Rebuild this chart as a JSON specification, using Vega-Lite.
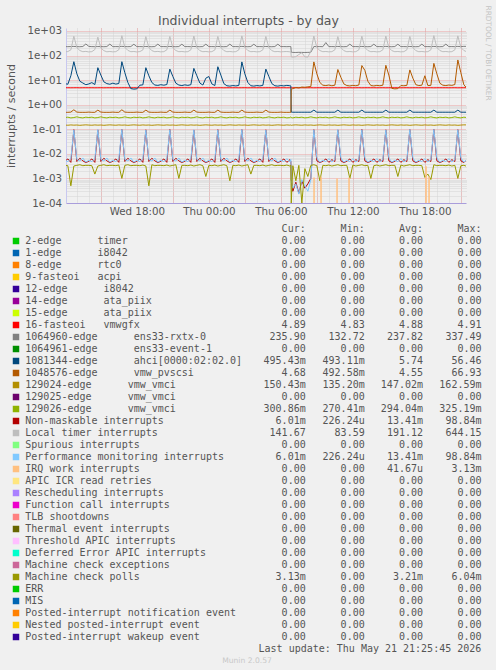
{
"$schema":"https://vega.github.io/schema/vega-lite/v6.json",
"background":"#f0f0f0",
"padding":5,
"title":{"text":"Individual interrupts - by day","font":"DejaVu Sans","fontSize":12.5,"fontWeight":"normal","color":"#555555","anchor":"middle","offset":-22},
"config":{"view":{"stroke":null},"font":"DejaVu Sans"},
"spacing":7,
"resolve":{"scale":{"color":"independent"}},
"vconcat":[
{
"width":400,"height":175,
"layer":[
{
"data":{"values":[
{"t":"2026-05-20T12:00","R":4.88,"G":231,"A":7.2,"P":0.49,"V4":0.148,"V6":0.30,"N":0.0050,"L":142,"F":0.0055,"M":0.0034},
{"t":"2026-05-20T12:15","R":4.89,"G":229,"A":6.8,"P":0.49,"V4":0.146,"V6":0.31,"N":0.0062,"L":145,"F":0.0048,"M":0.0033},
{"t":"2026-05-20T12:30","R":4.87,"G":232,"A":15,"P":0.50,"V4":0.150,"V6":0.29,"N":0.0045,"L":170,"F":0.0064,"M":0.0005},
{"t":"2026-05-20T12:45","R":4.88,"G":234,"A":56,"P":0.62,"V4":0.147,"V6":0.30,"N":0.096,"L":610,"F":0.094,"M":0.0032},
{"t":"2026-05-20T13:00","R":4.90,"G":230,"A":18,"P":0.50,"V4":0.149,"V6":0.32,"N":0.0049,"L":210,"F":0.0059,"M":0.0034},
{"t":"2026-05-20T13:15","R":4.86,"G":228,"A":9,"P":0.49,"V4":0.145,"V6":0.30,"N":0.0066,"L":160,"F":0.0051,"M":0.0036},
{"t":"2026-05-20T13:30","R":4.88,"G":233,"A":7.6,"P":0.49,"V4":0.148,"V6":0.29,"N":0.0052,"L":143,"F":0.0068,"M":0.0033},
{"t":"2026-05-20T13:45","R":4.89,"G":295,"A":6.5,"P":0.49,"V4":0.151,"V6":0.31,"N":0.0044,"L":147,"F":0.0046,"M":0.0034},
{"t":"2026-05-20T14:00","R":4.88,"G":235,"A":7.0,"P":0.50,"V4":0.148,"V6":0.30,"N":0.0050,"L":140,"F":0.0055,"M":0.0034},
{"t":"2026-05-20T14:15","R":4.89,"G":230,"A":7.9,"P":0.49,"V4":0.146,"V6":0.31,"N":0.0062,"L":144,"F":0.0048,"M":0.0033},
{"t":"2026-05-20T14:30","R":4.87,"G":229,"A":6.6,"P":0.49,"V4":0.150,"V6":0.29,"N":0.0045,"L":175,"F":0.0064,"M":0.0015},
{"t":"2026-05-20T14:45","R":4.88,"G":232,"A":32,"P":0.60,"V4":0.147,"V6":0.30,"N":0.094,"L":560,"F":0.097,"M":0.0032},
{"t":"2026-05-20T15:00","R":4.90,"G":231,"A":16,"P":0.50,"V4":0.149,"V6":0.32,"N":0.0049,"L":205,"F":0.0059,"M":0.0034},
{"t":"2026-05-20T15:15","R":4.86,"G":228,"A":8.5,"P":0.49,"V4":0.145,"V6":0.30,"N":0.0066,"L":158,"F":0.0051,"M":0.0036},
{"t":"2026-05-20T15:30","R":4.88,"G":232,"A":7.2,"P":0.49,"V4":0.148,"V6":0.29,"N":0.0052,"L":142,"F":0.0068,"M":0.0033},
{"t":"2026-05-20T15:45","R":4.89,"G":292,"A":6.8,"P":0.49,"V4":0.151,"V6":0.31,"N":0.0044,"L":146,"F":0.0046,"M":0.0034},
{"t":"2026-05-20T16:00","R":4.88,"G":229,"A":7.5,"P":0.50,"V4":0.148,"V6":0.30,"N":0.0050,"L":141,"F":0.0055,"M":0.0034},
{"t":"2026-05-20T16:15","R":4.89,"G":231,"A":6.9,"P":0.49,"V4":0.146,"V6":0.31,"N":0.0062,"L":144,"F":0.0048,"M":0.0033},
{"t":"2026-05-20T16:30","R":4.87,"G":230,"A":7.3,"P":0.49,"V4":0.150,"V6":0.29,"N":0.0045,"L":172,"F":0.0064,"M":0.0035},
{"t":"2026-05-20T16:45","R":4.88,"G":236,"A":56,"P":0.62,"V4":0.147,"V6":0.30,"N":0.098,"L":640,"F":0.0988,"M":0.001},
{"t":"2026-05-20T17:00","R":4.90,"G":231,"A":20,"P":0.50,"V4":0.149,"V6":0.32,"N":0.0049,"L":215,"F":0.0059,"M":0.0034},
{"t":"2026-05-20T17:15","R":4.86,"G":229,"A":8,"P":0.49,"V4":0.145,"V6":0.30,"N":0.0066,"L":162,"F":0.0051,"M":0.0036},
{"t":"2026-05-20T17:30","R":4.88,"G":232,"A":4.5,"P":0.49,"V4":0.148,"V6":0.29,"N":0.0052,"L":143,"F":0.0068,"M":0.0033},
{"t":"2026-05-20T17:45","R":4.89,"G":288,"A":4.3,"P":0.49,"V4":0.151,"V6":0.31,"N":0.0044,"L":146,"F":0.0046,"M":0.0034},
{"t":"2026-05-20T18:00","R":4.88,"G":230,"A":4.4,"P":0.50,"V4":0.148,"V6":0.30,"N":0.0050,"L":140,"F":0.0055,"M":0.0034},
{"t":"2026-05-20T18:15","R":4.89,"G":231,"A":6.2,"P":0.49,"V4":0.146,"V6":0.31,"N":0.0062,"L":145,"F":0.0048,"M":0.0033},
{"t":"2026-05-20T18:30","R":4.87,"G":229,"A":6.4,"P":0.49,"V4":0.150,"V6":0.29,"N":0.0045,"L":168,"F":0.0064,"M":0.0035},
{"t":"2026-05-20T18:45","R":4.88,"G":233,"A":32,"P":0.60,"V4":0.147,"V6":0.30,"N":0.095,"L":590,"F":0.093,"M":0.0032},
{"t":"2026-05-20T19:00","R":4.90,"G":230,"A":15,"P":0.50,"V4":0.149,"V6":0.32,"N":0.0049,"L":212,"F":0.0059,"M":0.0005},
{"t":"2026-05-20T19:15","R":4.86,"G":228,"A":8,"P":0.49,"V4":0.145,"V6":0.30,"N":0.0066,"L":158,"F":0.0051,"M":0.0036},
{"t":"2026-05-20T19:30","R":4.88,"G":232,"A":6.3,"P":0.49,"V4":0.148,"V6":0.29,"N":0.0052,"L":143,"F":0.0068,"M":0.0033},
{"t":"2026-05-20T19:45","R":4.89,"G":291,"A":6.1,"P":0.49,"V4":0.151,"V6":0.31,"N":0.0044,"L":147,"F":0.0046,"M":0.0034},
{"t":"2026-05-20T20:00","R":4.88,"G":230,"A":6.5,"P":0.50,"V4":0.148,"V6":0.30,"N":0.0050,"L":141,"F":0.0055,"M":0.0034},
{"t":"2026-05-20T20:15","R":4.89,"G":231,"A":6.2,"P":0.49,"V4":0.146,"V6":0.31,"N":0.0062,"L":144,"F":0.0048,"M":0.0033},
{"t":"2026-05-20T20:30","R":4.87,"G":229,"A":6.6,"P":0.49,"V4":0.150,"V6":0.29,"N":0.0045,"L":170,"F":0.0064,"M":0.0035},
{"t":"2026-05-20T20:45","R":4.88,"G":234,"A":28,"P":0.60,"V4":0.147,"V6":0.30,"N":0.097,"L":600,"F":0.095,"M":0.0032},
{"t":"2026-05-20T21:00","R":4.90,"G":230,"A":14,"P":0.50,"V4":0.149,"V6":0.32,"N":0.0049,"L":208,"F":0.0059,"M":0.0034},
{"t":"2026-05-20T21:15","R":4.86,"G":228,"A":7.5,"P":0.49,"V4":0.145,"V6":0.30,"N":0.0066,"L":160,"F":0.0051,"M":0.0036},
{"t":"2026-05-20T21:30","R":4.88,"G":232,"A":6.3,"P":0.49,"V4":0.148,"V6":0.29,"N":0.0052,"L":143,"F":0.0068,"M":0.001},
{"t":"2026-05-20T21:45","R":4.89,"G":289,"A":6.0,"P":0.49,"V4":0.151,"V6":0.31,"N":0.0044,"L":146,"F":0.0046,"M":0.0034},
{"t":"2026-05-20T22:00","R":4.88,"G":230,"A":6.4,"P":0.50,"V4":0.148,"V6":0.30,"N":0.0050,"L":141,"F":0.0055,"M":0.0034},
{"t":"2026-05-20T22:15","R":4.89,"G":231,"A":6.1,"P":0.49,"V4":0.146,"V6":0.31,"N":0.0062,"L":144,"F":0.0048,"M":0.0033},
{"t":"2026-05-20T22:30","R":4.87,"G":229,"A":6.5,"P":0.49,"V4":0.150,"V6":0.29,"N":0.0045,"L":170,"F":0.0064,"M":0.0035},
{"t":"2026-05-20T22:45","R":4.88,"G":233,"A":30,"P":0.60,"V4":0.147,"V6":0.30,"N":0.093,"L":620,"F":0.096,"M":0.0032},
{"t":"2026-05-20T23:00","R":4.90,"G":230,"A":15,"P":0.50,"V4":0.149,"V6":0.32,"N":0.0049,"L":210,"F":0.0059,"M":0.0034},
{"t":"2026-05-20T23:15","R":4.86,"G":228,"A":7.6,"P":0.49,"V4":0.145,"V6":0.30,"N":0.0066,"L":158,"F":0.0051,"M":0.0036},
{"t":"2026-05-20T23:30","R":4.88,"G":232,"A":6.3,"P":0.49,"V4":0.148,"V6":0.29,"N":0.0052,"L":143,"F":0.0068,"M":0.0033},
{"t":"2026-05-20T23:45","R":4.89,"G":290,"A":12,"P":0.49,"V4":0.151,"V6":0.31,"N":0.0044,"L":146,"F":0.0046,"M":0.0012},
{"t":"2026-05-21T00:00","R":4.88,"G":230,"A":14,"P":0.50,"V4":0.148,"V6":0.30,"N":0.0050,"L":141,"F":0.0055,"M":0.0034},
{"t":"2026-05-21T00:15","R":4.89,"G":231,"A":7,"P":0.49,"V4":0.146,"V6":0.31,"N":0.0062,"L":144,"F":0.0048,"M":0.0033},
{"t":"2026-05-21T00:30","R":4.87,"G":229,"A":6.0,"P":0.49,"V4":0.150,"V6":0.29,"N":0.0045,"L":168,"F":0.0064,"M":0.0035},
{"t":"2026-05-21T00:45","R":4.88,"G":234,"A":35,"P":0.60,"V4":0.147,"V6":0.30,"N":0.096,"L":600,"F":0.094,"M":0.0032},
{"t":"2026-05-21T01:00","R":4.90,"G":230,"A":16,"P":0.50,"V4":0.149,"V6":0.32,"N":0.0049,"L":212,"F":0.0059,"M":0.0034},
{"t":"2026-05-21T01:15","R":4.86,"G":228,"A":7.2,"P":0.49,"V4":0.145,"V6":0.30,"N":0.0066,"L":160,"F":0.0051,"M":0.0036},
{"t":"2026-05-21T01:30","R":4.88,"G":232,"A":5.9,"P":0.49,"V4":0.148,"V6":0.29,"N":0.0052,"L":143,"F":0.0068,"M":0.0033},
{"t":"2026-05-21T01:45","R":4.89,"G":291,"A":5.7,"P":0.49,"V4":0.151,"V6":0.31,"N":0.0044,"L":146,"F":0.0046,"M":0.0008},
{"t":"2026-05-21T02:00","R":4.88,"G":230,"A":6.0,"P":0.50,"V4":0.148,"V6":0.30,"N":0.0050,"L":141,"F":0.0055,"M":0.0034},
{"t":"2026-05-21T02:15","R":4.89,"G":231,"A":5.8,"P":0.49,"V4":0.146,"V6":0.31,"N":0.0062,"L":144,"F":0.0048,"M":0.0033},
{"t":"2026-05-21T02:30","R":4.87,"G":229,"A":6.1,"P":0.49,"V4":0.150,"V6":0.29,"N":0.0045,"L":170,"F":0.0064,"M":0.0035},
{"t":"2026-05-21T02:45","R":4.88,"G":235,"A":55,"P":0.60,"V4":0.147,"V6":0.30,"N":0.097,"L":630,"F":0.098,"M":0.0032},
{"t":"2026-05-21T03:00","R":4.90,"G":230,"A":18,"P":0.50,"V4":0.149,"V6":0.32,"N":0.0049,"L":214,"F":0.0059,"M":0.0034},
{"t":"2026-05-21T03:15","R":4.86,"G":228,"A":8,"P":0.49,"V4":0.145,"V6":0.30,"N":0.0066,"L":160,"F":0.0051,"M":0.0036},
{"t":"2026-05-21T03:30","R":4.88,"G":232,"A":5.9,"P":0.49,"V4":0.148,"V6":0.29,"N":0.0052,"L":143,"F":0.0068,"M":0.0015},
{"t":"2026-05-21T03:45","R":4.89,"G":289,"A":5.7,"P":0.49,"V4":0.151,"V6":0.31,"N":0.0044,"L":146,"F":0.0046,"M":0.0034},
{"t":"2026-05-21T04:00","R":4.88,"G":230,"A":6.0,"P":0.50,"V4":0.148,"V6":0.30,"N":0.0050,"L":141,"F":0.0055,"M":0.0034},
{"t":"2026-05-21T04:15","R":4.89,"G":231,"A":5.8,"P":0.49,"V4":0.146,"V6":0.31,"N":0.0062,"L":144,"F":0.0048,"M":0.0033},
{"t":"2026-05-21T04:30","R":4.87,"G":229,"A":6.1,"P":0.49,"V4":0.150,"V6":0.29,"N":0.0045,"L":170,"F":0.0064,"M":0.0035},
{"t":"2026-05-21T04:45","R":4.88,"G":233,"A":28,"P":0.60,"V4":0.147,"V6":0.30,"N":0.095,"L":600,"F":0.093,"M":0.0032},
{"t":"2026-05-21T05:00","R":4.90,"G":230,"A":14,"P":0.50,"V4":0.149,"V6":0.32,"N":0.0049,"L":210,"F":0.0059,"M":0.0034},
{"t":"2026-05-21T05:15","R":4.86,"G":228,"A":7.2,"P":0.49,"V4":0.145,"V6":0.30,"N":0.0066,"L":158,"F":0.0051,"M":0.0036},
{"t":"2026-05-21T05:30","R":4.88,"G":232,"A":5.9,"P":0.49,"V4":0.148,"V6":0.29,"N":0.0052,"L":143,"F":0.0068,"M":0.0033},
{"t":"2026-05-21T05:45","R":4.89,"G":290,"A":5.7,"P":0.49,"V4":0.151,"V6":0.31,"N":0.0044,"L":146,"F":0.0046,"M":0.0034},
{"t":"2026-05-21T06:00","R":4.88,"G":230,"A":6.0,"P":0.50,"V4":0.148,"V6":0.30,"N":0.0050,"L":141,"F":0.0055,"M":0.0034},
{"t":"2026-05-21T06:15","R":4.89,"G":231,"A":5.8,"P":0.49,"V4":0.146,"V6":0.31,"N":0.0062,"L":144,"F":0.0048,"M":0.0033},
{"t":"2026-05-21T06:30","R":4.87,"G":229,"A":6.1,"P":0.49,"V4":0.150,"V6":0.29,"N":0.0045,"L":145,"F":0.0064,"M":0.0035},
{"t":"2026-05-21T06:45","R":4.88,"G":232,"A":5.9,"P":0.49,"V4":0.147,"V6":0.30,"N":0.0058,"L":142,"F":0.0047,"M":0.0032},
{"t":"2026-05-21T06:50","R":4.90,"G":231,"A":5.8,"P":0.49,"V4":0.149,"V6":0.32,"N":0.0049,"L":143,"F":0.0059,"M":0.0034},
{"t":"2026-05-21T06:52","R":4.86,"G":135,"A":0.50,"P":4.3,"V4":0.145,"V6":0.30,"N":0.0009,"L":88,"F":0.0008,"M":0.0001},
{"t":"2026-05-21T07:00","R":4.88,"G":134,"A":0.495,"P":4.5,"V4":0.148,"V6":0.29,"N":0.0003,"L":86,"F":0.0004,"M":0.0033},
{"t":"2026-05-21T07:15","R":4.89,"G":133,"A":0.495,"P":5.0,"V4":0.151,"V6":0.31,"N":0.0007,"L":90,"F":0.0006,"M":0.0008},
{"t":"2026-05-21T07:30","R":4.88,"G":135,"A":0.495,"P":4.8,"V4":0.148,"V6":0.30,"N":0.00025,"L":110,"F":0.00023,"M":0.0034},
{"t":"2026-05-21T07:45","R":4.89,"G":134,"A":0.495,"P":5.2,"V4":0.146,"V6":0.31,"N":0.0008,"L":130,"F":0.0009,"M":0.0001},
{"t":"2026-05-21T08:00","R":4.87,"G":133,"A":0.495,"P":5.1,"V4":0.150,"V6":0.29,"N":0.0004,"L":88,"F":0.0005,"M":0.0025},
{"t":"2026-05-21T08:15","R":4.88,"G":134,"A":0.495,"P":5.3,"V4":0.147,"V6":0.30,"N":0.0006,"L":86,"F":0.0003,"M":0.0012},
{"t":"2026-05-21T08:30","R":4.90,"G":136,"A":0.495,"P":5.5,"V4":0.149,"V6":0.32,"N":0.001,"L":150,"F":0.0009,"M":0.0034},
{"t":"2026-05-21T08:45","R":4.86,"G":232,"A":0.60,"P":55,"V4":0.145,"V6":0.30,"N":0.096,"L":620,"F":0.095,"M":0.0036},
{"t":"2026-05-21T09:00","R":4.88,"G":230,"A":0.495,"P":18,"V4":0.148,"V6":0.29,"N":0.0052,"L":210,"F":0.0068,"M":0.0033},
{"t":"2026-05-21T09:15","R":4.89,"G":231,"A":0.495,"P":8,"V4":0.151,"V6":0.31,"N":0.0044,"L":160,"F":0.0046,"M":0.0008},
{"t":"2026-05-21T09:30","R":4.88,"G":229,"A":0.495,"P":6.2,"V4":0.148,"V6":0.30,"N":0.0050,"L":143,"F":0.0055,"M":0.0034},
{"t":"2026-05-21T09:45","R":4.89,"G":337,"A":0.495,"P":6.0,"V4":0.146,"V6":0.31,"N":0.0062,"L":146,"F":0.0048,"M":0.0033},
{"t":"2026-05-21T10:00","R":4.87,"G":230,"A":0.495,"P":6.3,"V4":0.150,"V6":0.29,"N":0.0045,"L":141,"F":0.0064,"M":0.0035},
{"t":"2026-05-21T10:15","R":4.88,"G":231,"A":0.495,"P":5.9,"V4":0.147,"V6":0.30,"N":0.0058,"L":144,"F":0.0047,"M":0.0032},
{"t":"2026-05-21T10:30","R":4.90,"G":229,"A":0.495,"P":6.2,"V4":0.149,"V6":0.32,"N":0.0049,"L":170,"F":0.0059,"M":0.0034},
{"t":"2026-05-21T10:45","R":4.86,"G":234,"A":0.60,"P":27,"V4":0.145,"V6":0.30,"N":0.094,"L":590,"F":0.097,"M":0.0036},
{"t":"2026-05-21T11:00","R":4.88,"G":230,"A":0.495,"P":13,"V4":0.148,"V6":0.29,"N":0.0052,"L":210,"F":0.0068,"M":0.0033},
{"t":"2026-05-21T11:15","R":4.89,"G":228,"A":0.495,"P":7,"V4":0.151,"V6":0.31,"N":0.0044,"L":158,"F":0.0046,"M":0.0034},
{"t":"2026-05-21T11:30","R":4.88,"G":232,"A":0.495,"P":6.0,"V4":0.148,"V6":0.30,"N":0.0050,"L":143,"F":0.0055,"M":0.0034},
{"t":"2026-05-21T11:45","R":4.89,"G":291,"A":0.495,"P":5.8,"V4":0.146,"V6":0.31,"N":0.0062,"L":146,"F":0.0048,"M":0.001},
{"t":"2026-05-21T12:00","R":4.87,"G":230,"A":0.495,"P":6.1,"V4":0.150,"V6":0.29,"N":0.0045,"L":141,"F":0.0064,"M":0.0035},
{"t":"2026-05-21T12:15","R":4.88,"G":231,"A":0.495,"P":5.9,"V4":0.147,"V6":0.30,"N":0.0058,"L":144,"F":0.0047,"M":0.0032},
{"t":"2026-05-21T12:30","R":4.90,"G":229,"A":0.495,"P":6.3,"V4":0.149,"V6":0.32,"N":0.0049,"L":170,"F":0.0059,"M":0.0034},
{"t":"2026-05-21T12:45","R":4.86,"G":234,"A":0.60,"P":39,"V4":0.145,"V6":0.30,"N":0.098,"L":610,"F":0.096,"M":0.0036},
{"t":"2026-05-21T13:00","R":4.88,"G":230,"A":0.495,"P":25,"V4":0.148,"V6":0.29,"N":0.0052,"L":212,"F":0.0068,"M":0.0033},
{"t":"2026-05-21T13:15","R":4.89,"G":228,"A":0.495,"P":9,"V4":0.151,"V6":0.31,"N":0.0044,"L":160,"F":0.0046,"M":0.0034},
{"t":"2026-05-21T13:30","R":4.88,"G":232,"A":0.495,"P":6.0,"V4":0.148,"V6":0.30,"N":0.0050,"L":143,"F":0.0055,"M":0.001},
{"t":"2026-05-21T13:45","R":4.89,"G":290,"A":0.495,"P":5.8,"V4":0.146,"V6":0.31,"N":0.0062,"L":146,"F":0.0048,"M":0.0033},
{"t":"2026-05-21T14:00","R":4.87,"G":230,"A":0.495,"P":6.1,"V4":0.150,"V6":0.29,"N":0.0045,"L":141,"F":0.0064,"M":0.0035},
{"t":"2026-05-21T14:15","R":4.88,"G":231,"A":0.495,"P":5.9,"V4":0.147,"V6":0.30,"N":0.0058,"L":144,"F":0.0047,"M":0.0032},
{"t":"2026-05-21T14:30","R":4.90,"G":229,"A":0.495,"P":6.2,"V4":0.149,"V6":0.32,"N":0.0049,"L":170,"F":0.0059,"M":0.0034},
{"t":"2026-05-21T14:45","R":4.86,"G":235,"A":0.60,"P":40,"V4":0.145,"V6":0.30,"N":0.095,"L":620,"F":0.094,"M":0.0036},
{"t":"2026-05-21T15:00","R":4.88,"G":230,"A":0.495,"P":16,"V4":0.148,"V6":0.29,"N":0.0052,"L":210,"F":0.0068,"M":0.0033},
{"t":"2026-05-21T15:15","R":4.89,"G":228,"A":0.495,"P":4.6,"V4":0.151,"V6":0.31,"N":0.0044,"L":158,"F":0.0046,"M":0.0034},
{"t":"2026-05-21T15:30","R":4.88,"G":232,"A":0.495,"P":4.4,"V4":0.148,"V6":0.30,"N":0.0050,"L":143,"F":0.0055,"M":0.0034},
{"t":"2026-05-21T15:45","R":4.89,"G":289,"A":0.495,"P":4.5,"V4":0.146,"V6":0.31,"N":0.0062,"L":146,"F":0.0048,"M":0.0012},
{"t":"2026-05-21T16:00","R":4.87,"G":230,"A":0.495,"P":6.0,"V4":0.150,"V6":0.29,"N":0.0045,"L":141,"F":0.0064,"M":0.0035},
{"t":"2026-05-21T16:15","R":4.88,"G":231,"A":0.495,"P":5.9,"V4":0.147,"V6":0.30,"N":0.0058,"L":144,"F":0.0047,"M":0.0032},
{"t":"2026-05-21T16:30","R":4.90,"G":229,"A":0.495,"P":6.1,"V4":0.149,"V6":0.32,"N":0.0049,"L":170,"F":0.0059,"M":0.0034},
{"t":"2026-05-21T16:45","R":4.86,"G":233,"A":0.60,"P":26,"V4":0.145,"V6":0.30,"N":0.097,"L":600,"F":0.098,"M":0.0036},
{"t":"2026-05-21T17:00","R":4.88,"G":230,"A":0.495,"P":12,"V4":0.148,"V6":0.29,"N":0.0052,"L":210,"F":0.0068,"M":0.0033},
{"t":"2026-05-21T17:15","R":4.89,"G":228,"A":0.495,"P":6.5,"V4":0.151,"V6":0.31,"N":0.0044,"L":158,"F":0.0046,"M":0.0034},
{"t":"2026-05-21T17:30","R":4.88,"G":232,"A":0.495,"P":6.0,"V4":0.148,"V6":0.30,"N":0.0050,"L":143,"F":0.0055,"M":0.0034},
{"t":"2026-05-21T17:45","R":4.89,"G":290,"A":0.495,"P":6.2,"V4":0.146,"V6":0.31,"N":0.0062,"L":146,"F":0.0048,"M":0.0033},
{"t":"2026-05-21T18:00","R":4.87,"G":230,"A":0.495,"P":15,"V4":0.150,"V6":0.29,"N":0.0045,"L":141,"F":0.0064,"M":0.0011},
{"t":"2026-05-21T18:15","R":4.88,"G":231,"A":0.495,"P":6.0,"V4":0.147,"V6":0.30,"N":0.0058,"L":144,"F":0.0047,"M":0.0015},
{"t":"2026-05-21T18:30","R":4.90,"G":229,"A":0.495,"P":6.1,"V4":0.149,"V6":0.32,"N":0.0049,"L":170,"F":0.0059,"M":0.0009},
{"t":"2026-05-21T18:45","R":4.86,"G":234,"A":0.60,"P":48,"V4":0.145,"V6":0.30,"N":0.0984,"L":644,"F":0.0988,"M":0.0036},
{"t":"2026-05-21T19:00","R":4.88,"G":230,"A":0.495,"P":18,"V4":0.148,"V6":0.29,"N":0.0052,"L":212,"F":0.0068,"M":0.0033},
{"t":"2026-05-21T19:15","R":4.89,"G":228,"A":0.495,"P":7.5,"V4":0.151,"V6":0.31,"N":0.0044,"L":160,"F":0.0046,"M":0.0034},
{"t":"2026-05-21T19:30","R":4.88,"G":232,"A":0.495,"P":6.2,"V4":0.148,"V6":0.30,"N":0.0050,"L":143,"F":0.0055,"M":0.0034},
{"t":"2026-05-21T19:45","R":4.89,"G":291,"A":0.495,"P":6.0,"V4":0.146,"V6":0.31,"N":0.0062,"L":146,"F":0.0048,"M":0.0033},
{"t":"2026-05-21T20:00","R":4.87,"G":230,"A":0.495,"P":6.3,"V4":0.150,"V6":0.29,"N":0.0045,"L":141,"F":0.0064,"M":0.0035},
{"t":"2026-05-21T20:15","R":4.88,"G":231,"A":0.495,"P":6.1,"V4":0.147,"V6":0.30,"N":0.0058,"L":144,"F":0.0047,"M":0.0032},
{"t":"2026-05-21T20:30","R":4.90,"G":229,"A":0.495,"P":6.6,"V4":0.149,"V6":0.32,"N":0.0049,"L":170,"F":0.0059,"M":0.0034},
{"t":"2026-05-21T20:45","R":4.86,"G":235,"A":0.60,"P":66,"V4":0.145,"V6":0.30,"N":0.096,"L":630,"F":0.095,"M":0.001},
{"t":"2026-05-21T21:00","R":4.88,"G":230,"A":0.495,"P":20,"V4":0.148,"V6":0.29,"N":0.0052,"L":212,"F":0.0068,"M":0.0033},
{"t":"2026-05-21T21:15","R":4.89,"G":236,"A":0.495,"P":6.5,"V4":0.151,"V6":0.31,"N":0.0044,"L":160,"F":0.0046,"M":0.0034},
{"t":"2026-05-21T21:30","R":4.89,"G":236,"A":0.495,"P":4.68,"V4":0.150,"V6":0.30,"N":0.006,"L":141.67,"F":0.006,"M":0.0031}
]},
"transform":[{"fold":["R","G","A","P","V4","V6","N","L","F","M"],"as":["s","v"]}],
"mark":{"type":"line","strokeWidth":1,"clip":true},
"encoding":{
"x":{"field":"t","type":"temporal","scale":{"domain":[{"year":2026,"month":5,"date":20,"hours":12,"minutes":5,"seconds":45},{"year":2026,"month":5,"date":21,"hours":21,"minutes":25,"seconds":45}]},
"axis":{"orient":"top","values":[{"year":2026,"month":5,"date":20,"hours":13},{"year":2026,"month":5,"date":20,"hours":14},{"year":2026,"month":5,"date":20,"hours":15},{"year":2026,"month":5,"date":20,"hours":16},{"year":2026,"month":5,"date":20,"hours":17},{"year":2026,"month":5,"date":20,"hours":18},{"year":2026,"month":5,"date":20,"hours":19},{"year":2026,"month":5,"date":20,"hours":20},{"year":2026,"month":5,"date":20,"hours":21},{"year":2026,"month":5,"date":20,"hours":22},{"year":2026,"month":5,"date":20,"hours":23},{"year":2026,"month":5,"date":21,"hours":0},{"year":2026,"month":5,"date":21,"hours":1},{"year":2026,"month":5,"date":21,"hours":2},{"year":2026,"month":5,"date":21,"hours":3},{"year":2026,"month":5,"date":21,"hours":4},{"year":2026,"month":5,"date":21,"hours":5},{"year":2026,"month":5,"date":21,"hours":6},{"year":2026,"month":5,"date":21,"hours":7},{"year":2026,"month":5,"date":21,"hours":8},{"year":2026,"month":5,"date":21,"hours":9},{"year":2026,"month":5,"date":21,"hours":10},{"year":2026,"month":5,"date":21,"hours":11},{"year":2026,"month":5,"date":21,"hours":12},{"year":2026,"month":5,"date":21,"hours":13},{"year":2026,"month":5,"date":21,"hours":14},{"year":2026,"month":5,"date":21,"hours":15},{"year":2026,"month":5,"date":21,"hours":16},{"year":2026,"month":5,"date":21,"hours":17},{"year":2026,"month":5,"date":21,"hours":18},{"year":2026,"month":5,"date":21,"hours":19},{"year":2026,"month":5,"date":21,"hours":20},{"year":2026,"month":5,"date":21,"hours":21}],
"grid":true,"gridColor":"#d4d4d4","gridDash":[1,1],"labels":false,"ticks":false,"domain":false,"title":null}},
"y":{"field":"v","type":"quantitative","scale":{"type":"log","domain":[0.0001,1318],"nice":false},
"axis":{"orient":"right","values":[0.0002,0.0003,0.0004,0.0005,0.0006,0.0007,0.0008,0.0009,0.002,0.003,0.004,0.005,0.006,0.007,0.008,0.009,0.02,0.03,0.04,0.05,0.06,0.07,0.08,0.09,0.2,0.3,0.4,0.5,0.6,0.7,0.8,0.9,2,3,4,5,6,7,8,9,20,30,40,50,60,70,80,90,200,300,400,500,600,700,800,900],
"grid":true,"gridColor":"#d4d4d4","gridDash":[1,1],"labels":false,"ticks":false,"domain":false,
"title":"RRDTOOL / TOBI OETIKER","titleAngle":90,"titleX":21,"titleY":-23,"titleAlign":"left","titleBaseline":"middle","titleFontSize":7.4,"titleColor":"#c4c4c4","titleFontWeight":"normal","titleFont":"DejaVu Sans"}},
"color":{"field":"s","type":"nominal","legend":null,"scale":{"domain":["R","G","A","P","V4","V6","N","L","F","M"],"range":["#FF0000","#808080","#00487D","#B35A00","#B38F00","#8FB300","#B30000","#BEBEBE","#80C9FF","#999900"]}}
}
},
{
"data":{"values":[
{"t":"2026-05-21T08:46","v":0.0011},
{"t":"2026-05-21T09:21","v":0.0012},
{"t":"2026-05-21T10:41","v":0.001},
{"t":"2026-05-21T11:41","v":0.0011},
{"t":"2026-05-21T18:06","v":0.00313},
{"t":"2026-05-21T18:21","v":0.0012}
]},
"mark":{"type":"rule","color":"#FFC080","strokeWidth":1.5,"clip":true},
"encoding":{
"x":{"field":"t","type":"temporal","axis":{"orient":"bottom","values":[{"year":2026,"month":5,"date":20,"hours":15},{"year":2026,"month":5,"date":20,"hours":18},{"year":2026,"month":5,"date":20,"hours":21},{"year":2026,"month":5,"date":21,"hours":0},{"year":2026,"month":5,"date":21,"hours":3},{"year":2026,"month":5,"date":21,"hours":6},{"year":2026,"month":5,"date":21,"hours":9},{"year":2026,"month":5,"date":21,"hours":12},{"year":2026,"month":5,"date":21,"hours":15},{"year":2026,"month":5,"date":21,"hours":18},{"year":2026,"month":5,"date":21,"hours":21}],
"grid":true,"gridColor":"#eaa0a0","gridDash":[1,1],"ticks":false,"domain":true,"domainColor":"#a99ddb","labelExpr":"hours(datum.value) % 6 == 0 ? timeFormat(datum.value, '%a %H:%M') : ''","labelOverlap":false,"labelFlush":false,"labelBound":false,"labelFont":"DejaVu Sans","labelFontSize":10.3,"labelColor":"#555555","labelPadding":3,"title":null}},
"y":{"field":"v","type":"quantitative","axis":{"orient":"left","values":[0.0001,0.001,0.01,0.1,1,10,100,1000],"grid":true,"gridColor":"#eaa0a0","gridDash":[1,1],"ticks":false,"domain":true,"domainColor":"#c8c8f0","labelExpr":"datum.value >= 1 ? '1e+0' + round(log(datum.value)/LN10) : '1e-0' + round(-log(datum.value)/LN10)","labelFont":"DejaVu Sans","labelFontSize":10.3,"labelColor":"#555555","labelPadding":4.5,"labelOverlap":false,"labelFlush":false,"title":"interrupts / second","titleFont":"DejaVu Sans","titleFontSize":11,"titleFontWeight":"normal","titleColor":"#555555","titlePadding":10}},
"y2":{"datum":0.0001}
}
}
],
"resolve":{"axis":{"x":"independent","y":"independent"}}
},
{
"width":420,"height":432,
"layer":[
{
"data":{"values":[
{"name":"2-edge      timer","cur":"0.00","min":"0.00","avg":"0.00","max":"0.00"},
{"name":"1-edge      i8042","cur":"0.00","min":"0.00","avg":"0.00","max":"0.00"},
{"name":"8-edge      rtc0","cur":"0.00","min":"0.00","avg":"0.00","max":"0.00"},
{"name":"9-fasteoi   acpi","cur":"0.00","min":"0.00","avg":"0.00","max":"0.00"},
{"name":"12-edge      i8042","cur":"0.00","min":"0.00","avg":"0.00","max":"0.00"},
{"name":"14-edge      ata_piix","cur":"0.00","min":"0.00","avg":"0.00","max":"0.00"},
{"name":"15-edge      ata_piix","cur":"0.00","min":"0.00","avg":"0.00","max":"0.00"},
{"name":"16-fasteoi   vmwgfx","cur":"4.89","min":"4.83","avg":"4.88","max":"4.91"},
{"name":"1064960-edge      ens33-rxtx-0","cur":"235.90","min":"132.72","avg":"237.82","max":"337.49"},
{"name":"1064961-edge      ens33-event-1","cur":"0.00","min":"0.00","avg":"0.00","max":"0.00"},
{"name":"1081344-edge      ahci[0000:02:02.0]","cur":"495.43m","min":"493.11m","avg":"5.74","max":"56.46"},
{"name":"1048576-edge      vmw_pvscsi","cur":"4.68","min":"492.58m","avg":"4.55","max":"66.93"},
{"name":"129024-edge      vmw_vmci","cur":"150.43m","min":"135.20m","avg":"147.02m","max":"162.59m"},
{"name":"129025-edge      vmw_vmci","cur":"0.00","min":"0.00","avg":"0.00","max":"0.00"},
{"name":"129026-edge      vmw_vmci","cur":"300.86m","min":"270.41m","avg":"294.04m","max":"325.19m"},
{"name":"Non-maskable interrupts","cur":"6.01m","min":"226.24u","avg":"13.41m","max":"98.84m"},
{"name":"Local timer interrupts","cur":"141.67","min":"83.59","avg":"191.12","max":"644.15"},
{"name":"Spurious interrupts","cur":"0.00","min":"0.00","avg":"0.00","max":"0.00"},
{"name":"Performance monitoring interrupts","cur":"6.01m","min":"226.24u","avg":"13.41m","max":"98.84m"},
{"name":"IRQ work interrupts","cur":"0.00","min":"0.00","avg":"41.67u","max":"3.13m"},
{"name":"APIC ICR read retries","cur":"0.00","min":"0.00","avg":"0.00","max":"0.00"},
{"name":"Rescheduling interrupts","cur":"0.00","min":"0.00","avg":"0.00","max":"0.00"},
{"name":"Function call interrupts","cur":"0.00","min":"0.00","avg":"0.00","max":"0.00"},
{"name":"TLB shootdowns","cur":"0.00","min":"0.00","avg":"0.00","max":"0.00"},
{"name":"Thermal event interrupts","cur":"0.00","min":"0.00","avg":"0.00","max":"0.00"},
{"name":"Threshold APIC interrupts","cur":"0.00","min":"0.00","avg":"0.00","max":"0.00"},
{"name":"Deferred Error APIC interrupts","cur":"0.00","min":"0.00","avg":"0.00","max":"0.00"},
{"name":"Machine check exceptions","cur":"0.00","min":"0.00","avg":"0.00","max":"0.00"},
{"name":"Machine check polls","cur":"3.13m","min":"0.00","avg":"3.21m","max":"6.04m"},
{"name":"ERR","cur":"0.00","min":"0.00","avg":"0.00","max":"0.00"},
{"name":"MIS","cur":"0.00","min":"0.00","avg":"0.00","max":"0.00"},
{"name":"Posted-interrupt notification event","cur":"0.00","min":"0.00","avg":"0.00","max":"0.00"},
{"name":"Nested posted-interrupt event","cur":"0.00","min":"0.00","avg":"0.00","max":"0.00"},
{"name":"Posted-interrupt wakeup event","cur":"0.00","min":"0.00","avg":"0.00","max":"0.00"}
]},
"transform":[
{"window":[{"op":"row_number","as":"i"}]},
{"calculate":"replace(datum.name, regexp(' ', 'g'), '\u00a0')","as":"lab"},
{"fold":["cur","min","avg","max"],"as":["col","val"]},
{"calculate":"test(regexp('[0-9]$'), datum.val) ? datum.val + '\u00a0' : datum.val","as":"txt"}
],
"layer":[
{"transform":[{"filter":"datum.col == 'cur'"}],
"mark":{"type":"square","size":42,"opacity":1,"filled":true},
"encoding":{"x":{"datum":-50,"type":"quantitative","scale":{"domain":[0,420],"nice":false,"zero":false},"axis":null},
"y":{"field":"i","type":"quantitative","scale":{"domain":[0,36],"nice":false,"zero":false,"reverse":true},"axis":null},
"color":{"field":"name","type":"nominal","legend":null,"scale":{"domain":["2-edge      timer","1-edge      i8042","8-edge      rtc0","9-fasteoi   acpi","12-edge      i8042","14-edge      ata_piix","15-edge      ata_piix","16-fasteoi   vmwgfx","1064960-edge      ens33-rxtx-0","1064961-edge      ens33-event-1","1081344-edge      ahci[0000:02:02.0]","1048576-edge      vmw_pvscsi","129024-edge      vmw_vmci","129025-edge      vmw_vmci","129026-edge      vmw_vmci","Non-maskable interrupts","Local timer interrupts","Spurious interrupts","Performance monitoring interrupts","IRQ work interrupts","APIC ICR read retries","Rescheduling interrupts","Function call interrupts","TLB shootdowns","Thermal event interrupts","Threshold APIC interrupts","Deferred Error APIC interrupts","Machine check exceptions","Machine check polls","ERR","MIS","Posted-interrupt notification event","Nested posted-interrupt event","Posted-interrupt wakeup event"],
"range":["#00CC00","#0066B3","#FF8000","#FFCC00","#330099","#990099","#CCFF00","#FF0000","#808080","#008F00","#00487D","#B35A00","#B38F00","#6B006B","#8FB300","#B30000","#BEBEBE","#80FF80","#80C9FF","#FFC080","#FFE680","#AA80FF","#EE00CC","#FF8080","#666600","#FFBFFF","#00FFCC","#CC6699","#999900","#00CC00","#0066B3","#FF8000","#FFCC00","#330099"]}}}
},
{"transform":[{"filter":"datum.col == 'cur'"}],
"mark":{"type":"text","align":"left","baseline":"middle","font":"DejaVu Sans Mono","fontSize":10,"color":"#555555"},
"encoding":{"x":{"datum":-40.7,"type":"quantitative"},"y":{"field":"i","type":"quantitative"},"text":{"field":"lab"}}
},
{"transform":[{"filter":"datum.col == 'cur'"}],
"mark":{"type":"text","align":"right","baseline":"middle","font":"DejaVu Sans Mono","fontSize":10,"color":"#555555"},
"encoding":{"x":{"datum":239.7,"type":"quantitative"},"y":{"field":"i","type":"quantitative"},"text":{"field":"txt"}}
},
{"transform":[{"filter":"datum.col == 'min'"}],
"mark":{"type":"text","align":"right","baseline":"middle","font":"DejaVu Sans Mono","fontSize":10,"color":"#555555"},
"encoding":{"x":{"datum":298.7,"type":"quantitative"},"y":{"field":"i","type":"quantitative"},"text":{"field":"txt"}}
},
{"transform":[{"filter":"datum.col == 'avg'"}],
"mark":{"type":"text","align":"right","baseline":"middle","font":"DejaVu Sans Mono","fontSize":10,"color":"#555555"},
"encoding":{"x":{"datum":357,"type":"quantitative"},"y":{"field":"i","type":"quantitative"},"text":{"field":"txt"}}
},
{"transform":[{"filter":"datum.col == 'max'"}],
"mark":{"type":"text","align":"right","baseline":"middle","font":"DejaVu Sans Mono","fontSize":10,"color":"#555555"},
"encoding":{"x":{"datum":415.5,"type":"quantitative"},"y":{"field":"i","type":"quantitative"},"text":{"field":"txt"}}
}
]
},
{"data":{"values":[{}]},"mark":{"type":"text","align":"right","baseline":"middle","font":"DejaVu Sans Mono","fontSize":10,"color":"#555555"},
"encoding":{"x":{"datum":239.7,"type":"quantitative"},"y":{"datum":0,"type":"quantitative"},"text":{"value":"Cur:\u00a0\u00a0"}}},
{"data":{"values":[{}]},"mark":{"type":"text","align":"right","baseline":"middle","font":"DejaVu Sans Mono","fontSize":10,"color":"#555555"},
"encoding":{"x":{"datum":298.7,"type":"quantitative"},"y":{"datum":0,"type":"quantitative"},"text":{"value":"Min:\u00a0\u00a0"}}},
{"data":{"values":[{}]},"mark":{"type":"text","align":"right","baseline":"middle","font":"DejaVu Sans Mono","fontSize":10,"color":"#555555"},
"encoding":{"x":{"datum":357,"type":"quantitative"},"y":{"datum":0,"type":"quantitative"},"text":{"value":"Avg:\u00a0\u00a0"}}},
{"data":{"values":[{}]},"mark":{"type":"text","align":"right","baseline":"middle","font":"DejaVu Sans Mono","fontSize":10,"color":"#555555"},
"encoding":{"x":{"datum":415.5,"type":"quantitative"},"y":{"datum":0,"type":"quantitative"},"text":{"value":"Max:\u00a0\u00a0"}}},
{"data":{"values":[{}]},"mark":{"type":"text","align":"right","baseline":"middle","font":"DejaVu Sans Mono","fontSize":10,"color":"#555555"},
"encoding":{"x":{"datum":415.3,"type":"quantitative"},"y":{"datum":35,"type":"quantitative"},"text":{"value":"Last update: Thu May 21 21:25:45 2026"}}},
{"data":{"values":[{}]},"mark":{"type":"text","align":"center","baseline":"middle","font":"DejaVu Sans","fontSize":7.6,"color":"#c8c8c8"},
"encoding":{"x":{"datum":181,"type":"quantitative"},"y":{"datum":36,"type":"quantitative"},"text":{"value":"Munin 2.0.57"}}}
]
}
]
}
